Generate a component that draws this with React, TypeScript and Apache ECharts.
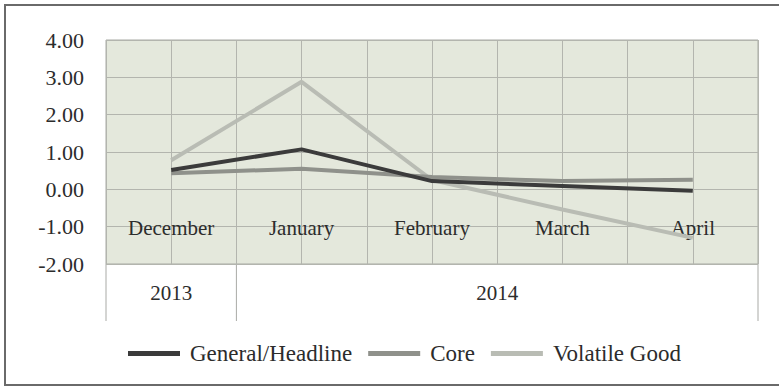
import React, { useEffect, useRef } from "react";
import * as echarts from "echarts";

// Monthly inflation by component (percent, month on month)
const months = ["December", "January", "February", "March", "April"];
const years = ["2013", "2014"];
const yearSpans = [1, 4]; // number of months under each year
const generalHeadline = [0.52, 1.07, 0.22, 0.09, -0.04];
const core = [0.43, 0.55, 0.33, 0.22, 0.26];
const volatileGood = [0.78, 2.88, 0.25, -0.54, -1.3];
const yTicks = { min: -2, max: 4, interval: 1 };

const FONT = "Liberation Serif";
const TEXT = "#2c2c2c";

// plot rectangle
const G_LEFT = 106;
const G_TOP = 40;
const G_WIDTH = 652;
const G_HEIGHT = 224;

export default function App() {
  const ref = useRef<HTMLDivElement>(null);

  useEffect(() => {
    if (!ref.current) return;
    const chart = echarts.init(ref.current, undefined, { renderer: "svg" });

    const colW = G_WIDTH / months.length;
    const bottom = G_TOP + G_HEIGHT;
    const tableBottom = bottom + 57;

    // year header cells below the plot
    const yearGraphics: any[] = [];
    let start = 0;
    yearSpans.forEach((span, i) => {
      const x0 = G_LEFT + start * colW;
      const x1 = G_LEFT + (start + span) * colW;
      if (i === 0) {
        yearGraphics.push({
          type: "line",
          shape: { x1: x0, y1: bottom, x2: x0, y2: tableBottom },
          style: { stroke: "#a9aaa6", lineWidth: 1 },
        });
      }
      yearGraphics.push({
        type: "line",
        shape: { x1: x1, y1: bottom, x2: x1, y2: tableBottom },
        style: { stroke: "#a9aaa6", lineWidth: 1 },
      });
      yearGraphics.push({
        type: "text",
        x: (x0 + x1) / 2,
        y: bottom + 29,
        style: {
          text: years[i],
          fontFamily: FONT,
          fontSize: 21,
          fill: TEXT,
          align: "center",
          verticalAlign: "middle",
        },
      });
      start += span;
    });

    const lineSeries = (name: string, data: number[], color: string) => ({
      name,
      type: "line",
      data,
      xAxisIndex: 0,
      symbol: "none",
      lineStyle: { color, width: 4 },
      itemStyle: { color },
      z: 3,
    });

    chart.setOption({
      animation: false,
      backgroundColor: "#ffffff",
      grid: {
        left: G_LEFT,
        top: G_TOP,
        width: G_WIDTH,
        height: G_HEIGHT,
        show: true,
        backgroundColor: "#e4e8dc",
        borderColor: "#a8aaa4",
        borderWidth: 1,
      },
      xAxis: [
        {
          type: "category",
          data: months,
          boundaryGap: true,
          position: "bottom",
          axisLine: { show: false },
          axisTick: { show: false },
          splitLine: { show: false },
          axisLabel: {
            margin: -36,
            verticalAlign: "middle",
            fontFamily: FONT,
            fontSize: 21,
            color: TEXT,
          },
        },
        {
          // half-month vertical grid
          type: "value",
          min: 0,
          max: months.length * 2,
          interval: 1,
          show: true,
          position: "top",
          axisLine: { show: false },
          axisTick: { show: false },
          axisLabel: { show: false },
          splitLine: { show: true, lineStyle: { color: "#b3b5ae", width: 1 } },
        },
      ],
      yAxis: {
        type: "value",
        min: yTicks.min,
        max: yTicks.max,
        interval: yTicks.interval,
        axisLine: { show: false },
        axisTick: { show: false },
        axisLabel: {
          margin: 22,
          formatter: (v: number) => v.toFixed(2),
          fontFamily: FONT,
          fontSize: 22,
          color: TEXT,
        },
        splitLine: { lineStyle: { color: "#b3b5ae", width: 1 } },
      },
      legend: {
        bottom: 17,
        left: 123,
        itemWidth: 52,
        itemHeight: 5,
        itemGap: 16,
        icon: "rect",
        textStyle: { fontFamily: FONT, fontSize: 23, color: TEXT, padding: [0, 0, 0, 5] },
        data: ["General/Headline", "Core", "Volatile Good"],
      },
      series: [
        lineSeries("Volatile Good", volatileGood, "#b9bcb4"),
        lineSeries("Core", core, "#8f918b"),
        lineSeries("General/Headline", generalHeadline, "#3b3b3b"),
      ],
      graphic: [
        {
          type: "rect",
          shape: { x: 5, y: 5, width: 790, height: 380 },
          style: { fill: "none", stroke: "#6a6a6a", lineWidth: 2 },
          silent: true,
        },
        ...yearGraphics,
      ],
    });

    return () => chart.dispose();
  }, []);

  return (
    <div
      ref={ref}
      style={{ position: "fixed", left: 0, top: 0, width: 779, height: 387 }}
    />
  );
}
